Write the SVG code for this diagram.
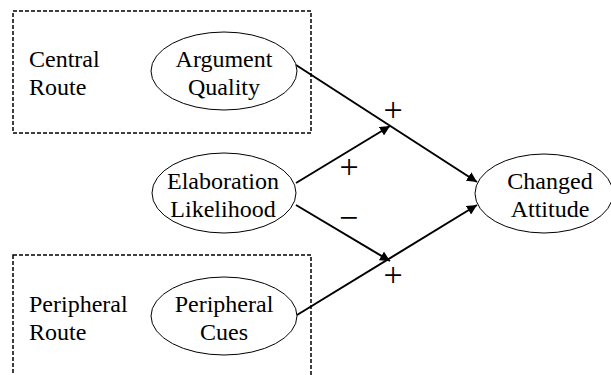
<svg xmlns="http://www.w3.org/2000/svg" width="611" height="375" viewBox="0 0 611 375">
<defs>
<marker id="ah" viewBox="0 0 10 10" refX="10" refY="5" markerWidth="5" markerHeight="5" orient="auto" markerUnits="strokeWidth">
<path d="M0,0 L10,5 L0,10 Z" fill="#000"/>
</marker>
<style>
text{font-family:"Liberation Serif","Times New Roman",serif;font-size:24px;fill:#000}
.c{text-anchor:middle}
.s{font-size:34px;font-weight:300}
.box{fill:none;stroke:#000;stroke-width:1.5;stroke-dasharray:4 2}
.node{fill:#fff;stroke:#000;stroke-width:1}
.edge{fill:none;stroke:#000;stroke-width:2}
</style>
</defs>
<rect width="611" height="375" fill="#fff"/>
<g id="central-route">
<rect class="box" x="13" y="11" width="298" height="122"/>
<text x="29" y="67">Central</text>
<text x="29" y="95">Route</text>
</g>
<g id="peripheral-route">
<rect class="box" x="13" y="255" width="298" height="130"/>
<text x="29" y="312">Peripheral</text>
<text x="29" y="340">Route</text>
</g>
<g id="connectors">
<line class="edge" x1="296" y1="65" x2="477" y2="182" marker-end="url(#ah)"/>
<line class="edge" x1="296" y1="183" x2="390" y2="126" marker-end="url(#ah)"/>
<line class="edge" x1="296" y1="205" x2="390" y2="261" marker-end="url(#ah)"/>
<line class="edge" x1="297" y1="315" x2="477" y2="205" marker-end="url(#ah)"/>
<text class="c s" x="393" y="121">+</text>
<text class="c s" x="349" y="177.5">+</text>
<text class="c s" x="348.5" y="229">−</text>
<text class="c s" x="393" y="285.5">+</text>
</g>
<g id="argument-quality">
<ellipse class="node" cx="224" cy="71" rx="73" ry="39"/>
<text class="c" x="224" y="67">Argument</text>
<text class="c" x="224" y="95">Quality</text>
</g>
<g id="elaboration-likelihood">
<ellipse class="node" cx="224" cy="193" rx="72" ry="40"/>
<text class="c" x="223" y="189">Elaboration</text>
<text class="c" x="223" y="217">Likelihood</text>
</g>
<g id="peripheral-cues">
<ellipse class="node" cx="224" cy="316" rx="73" ry="39"/>
<text class="c" x="224" y="312">Peripheral</text>
<text class="c" x="224" y="340">Cues</text>
</g>
<g id="changed-attitude">
<ellipse class="node" cx="544" cy="193.5" rx="69" ry="39.5"/>
<text class="c" x="550" y="189">Changed</text>
<text class="c" x="550" y="217">Attitude</text>
</g>
</svg>
